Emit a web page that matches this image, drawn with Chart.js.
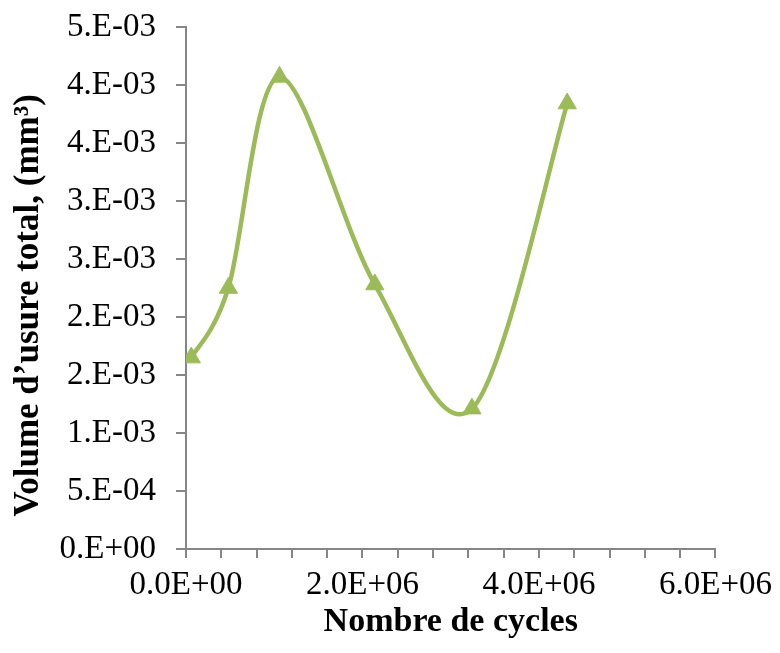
<!DOCTYPE html>
<html>
<head>
<meta charset="utf-8">
<script src="https://cdn.jsdelivr.net/npm/chart.js@4.4.1/dist/chart.umd.min.js"></script>
<style>
  html, body { margin: 0; padding: 0; background: #fff; }
  canvas { display: block; }
</style>
</head>
<body>
<canvas id="wearChart" width="780" height="653"></canvas>
<script>
// cycles and total wear volume
const cycles = [6.0e4, 4.8e5, 1.06e6, 2.14e6, 3.24e6, 4.32e6];
const wearVolume = [1.65e-3, 2.25e-3, 4.07e-3, 2.28e-3, 1.21e-3, 3.84e-3];

// Excel style rounded labels, one per major tick
const yTickLabels = ["0.E+00", "5.E-04", "1.E-03", "2.E-03", "2.E-03", "3.E-03", "3.E-03", "4.E-03", "4.E-03", "5.E-03"];
const xTickLabels = ["0.0E+00", "2.0E+06", "4.0E+06", "6.0E+06"];

const axisGray = "#868686";
const green = "#9BBB59";
const serif = "'Liberation Serif', 'Times New Roman', serif";

// Excel "smoothed line": bezier handles = (next - prev) / 6, on the pixel positions
const excelSmooth = {
  id: "excelSmooth",
  beforeDatasetDraw(chart, args) {
    const meta = args.meta;
    const pts = meta.data;
    const n = pts.length;
    for (let i = 0; i < n; i++) {
      const prev = pts[Math.max(i - 1, 0)];
      const next = pts[Math.min(i + 1, n - 1)];
      const dx = (next.x - prev.x) / 6;
      const dy = (next.y - prev.y) / 6;
      pts[i].cp1x = pts[i].x - dx;
      pts[i].cp1y = pts[i].y - dy;
      pts[i].cp2x = pts[i].x + dx;
      pts[i].cp2y = pts[i].y + dy;
    }
    if (meta.dataset) {
      meta.dataset._pointsUpdated = true;
      meta.dataset._path = undefined;
    }
  },
};

document.addEventListener("DOMContentLoaded", () => {
  const ctx = document.getElementById("wearChart").getContext("2d");

  const points = cycles.map((c, i) => ({ x: c, y: wearVolume[i] }));

  new Chart(ctx, {
    type: "scatter",
    data: {
      datasets: [
        {
          data: points,
          showLine: true,
          tension: 0.4,
          borderColor: green,
          borderWidth: 4.5,
          pointStyle: "triangle",
          pointRadius: 10.5,
          pointBackgroundColor: green,
          pointBorderColor: green,
          pointBorderWidth: 1,
        },
      ],
    },
    options: {
      responsive: false,
      animation: false,
      layout: { padding: { left: 6, right: 62, top: 27, bottom: 8 } },
      plugins: {
        legend: { display: false },
        tooltip: { enabled: false },
      },
      scales: {
        x: {
          type: "linear",
          min: 0,
          max: 6e6,
          border: { color: axisGray, width: 2 },
          grid: {
            drawOnChartArea: false,
            drawTicks: true,
            tickLength: 9,
            color: axisGray,
            lineWidth: 2,
          },
          ticks: {
            stepSize: 4e5,
            autoSkip: false,
            maxRotation: 0,
            padding: 8,
            color: "#000",
            font: { family: serif, size: 33 },
            callback: (v, i) => (i % 5 === 0 ? xTickLabels[i / 5] : ""),
          },
          title: {
            display: true,
            text: "Nombre de cycles",
            color: "#000",
            font: { family: serif, size: 34, weight: "bold" },
            padding: { top: 2, bottom: 2 },
          },
          afterFit: (scale) => {
            scale.height = 653 - 549 - 8;
          },
        },
        y: {
          type: "linear",
          min: 0,
          max: 0.0045,
          border: { color: axisGray, width: 2 },
          grid: {
            drawOnChartArea: false,
            drawTicks: true,
            tickLength: 10,
            color: axisGray,
            lineWidth: 2,
          },
          ticks: {
            stepSize: 0.0005,
            autoSkip: false,
            padding: 20,
            color: "#000",
            font: { family: serif, size: 33 },
            callback: (v, i) => yTickLabels[i],
          },
          title: {
            display: true,
            // trailing spaces push the centred text a little lower, as in the original
            text: "Volume d\u2019usure total, (mm\u00b3)\u00a0\u00a0\u00a0\u00a0",
            color: "#000",
            font: { family: serif, size: 35, weight: "bold" },
            padding: { top: 2, bottom: 2 },
          },
          afterFit: (scale) => {
            scale.width = 186 - 6;
            scale.paddingTop = 0;
            scale.paddingBottom = 0;
          },
        },
      },
    },
    plugins: [excelSmooth],
  });
});
</script>
</body>
</html>
